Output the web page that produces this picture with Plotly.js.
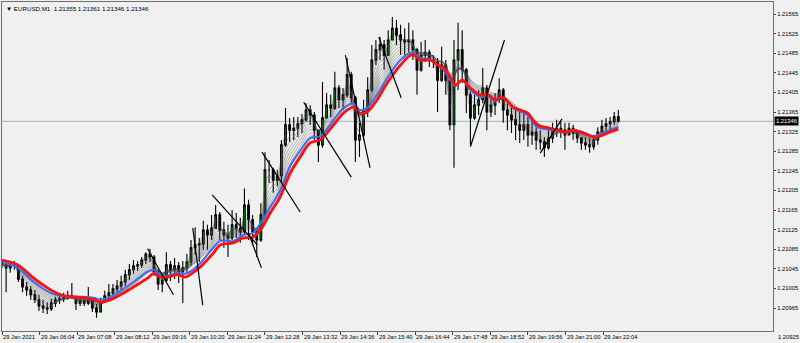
<!DOCTYPE html>
<html>
<head>
<meta charset="utf-8">
<script src="https://cdn.plot.ly/plotly-3.0.1.min.js"></script>
<style>
html,body{margin:0;padding:0;background:#f0f0f0;}
#chart{width:800px;height:343px;}
</style>
</head>
<body>
<div id="chart"></div>
<script>
// ---- DATA ----
const symbol = "EURUSD,M1";
const startTime = "2021-01-29 05:00";   // first bar
const barMinutes = 7;                    // each plotted bar = 7 minutes
const lastO = 1.21355, lastH = 1.21361, lastL = 1.21346, lastC = 1.21346;
const firstOpen = 1.21060;

const hi = [1.21063,1.21059,1.21057,1.21061,1.21053,1.21031,1.21018,1.21010,1.21002,1.20992,
1.20982,1.20977,1.20984,1.20988,1.20992,1.20996,1.21000,1.21016,1.20990,1.20988,
1.20988,1.21008,1.20982,1.20973,1.20986,1.21000,1.21014,1.21014,1.21022,1.21031,
1.21043,1.21055,1.21063,1.21061,1.21069,1.21079,1.21086,1.21073,1.21043,1.21031,
1.21079,1.21061,1.21067,1.21059,1.21061,1.21075,1.21104,1.21130,1.21108,1.21143,
1.21135,1.21155,1.21175,1.21161,1.21141,1.21135,1.21165,1.21159,1.21149,1.21209,
1.21186,1.21155,1.21128,1.21179,1.21283,1.21267,1.21251,1.21247,1.21308,1.21373,
1.21353,1.21355,1.21355,1.21361,1.21383,1.21379,1.21365,1.21328,1.21426,1.21404,
1.21400,1.21447,1.21420,1.21414,1.21475,1.21447,1.21398,1.21343,1.21390,1.21436,
1.21502,1.21512,1.21518,1.21512,1.21532,1.21559,1.21553,1.21543,1.21536,1.21547,
1.21532,1.21496,1.21508,1.21512,1.21492,1.21481,1.21475,1.21498,1.21471,1.21441,
1.21512,1.21547,1.21532,1.21455,1.21406,1.21400,1.21410,1.21455,1.21420,1.21400,
1.21404,1.21434,1.21414,1.21383,1.21381,1.21375,1.21369,1.21365,1.21355,1.21349,
1.21334,1.21328,1.21314,1.21328,1.21343,1.21349,1.21345,1.21343,1.21343,1.21339,
1.21328,1.21314,1.21314,1.21312,1.21318,1.21334,1.21349,1.21353,1.21355,1.21365,1.21369];

const lo = [1.21047,1.20997,1.21037,1.21043,1.21018,1.20997,1.20990,1.20982,1.20975,1.20959,
1.20955,1.20953,1.20959,1.20967,1.20973,1.20977,1.20982,1.20984,1.20961,1.20969,
1.20969,1.20971,1.20957,1.20945,1.20957,1.20975,1.20984,1.20990,1.20996,1.21002,
1.21010,1.21022,1.21035,1.21041,1.21047,1.21055,1.21059,1.21031,1.21002,1.20997,
1.21018,1.21020,1.21024,1.21016,1.20975,1.21035,1.21051,1.21073,1.21059,1.21084,
1.21084,1.21104,1.21128,1.21104,1.21088,1.21069,1.21104,1.21108,1.21098,1.21114,
1.21104,1.21094,1.21069,1.21100,1.21149,1.21220,1.21200,1.21214,1.21222,1.21294,
1.21304,1.21308,1.21314,1.21322,1.21345,1.21339,1.21308,1.21263,1.21292,1.21353,
1.21355,1.21369,1.21373,1.21369,1.21394,1.21381,1.21263,1.21273,1.21308,1.21355,
1.21405,1.21461,1.21471,1.21451,1.21482,1.21512,1.21502,1.21482,1.21482,1.21487,
1.21471,1.21400,1.21447,1.21467,1.21457,1.21455,1.21365,1.21426,1.21400,1.21328,
1.21251,1.21410,1.21424,1.21363,1.21298,1.21349,1.21359,1.21383,1.21328,1.21355,
1.21359,1.21383,1.21343,1.21328,1.21322,1.21308,1.21302,1.21308,1.21294,1.21298,
1.21288,1.21288,1.21273,1.21288,1.21302,1.21314,1.21312,1.21288,1.21318,1.21308,
1.21302,1.21288,1.21288,1.21282,1.21288,1.21298,1.21314,1.21324,1.21328,1.21339,1.21343];

const cl = [1.21053,1.21047,1.21051,1.21051,1.21024,1.21008,1.21002,1.20992,1.20982,1.20969,
1.20965,1.20963,1.20975,1.20982,1.20984,1.20986,1.20990,1.20988,1.20975,1.20980,
1.20975,1.20982,1.20965,1.20957,1.20977,1.20990,1.20996,1.21004,1.21010,1.21018,
1.21033,1.21043,1.21051,1.21053,1.21063,1.21075,1.21069,1.21039,1.21014,1.21022,
1.21053,1.21043,1.21051,1.21039,1.21047,1.21059,1.21088,1.21094,1.21096,1.21124,
1.21114,1.21128,1.21155,1.21124,1.21114,1.21108,1.21135,1.21128,1.21120,1.21175,
1.21145,1.21120,1.21104,1.21155,1.21247,1.21247,1.21226,1.21235,1.21298,1.21339,
1.21328,1.21332,1.21341,1.21349,1.21369,1.21359,1.21328,1.21298,1.21353,1.21379,
1.21373,1.21414,1.21390,1.21400,1.21441,1.21394,1.21308,1.21318,1.21369,1.21410,
1.21471,1.21492,1.21502,1.21481,1.21512,1.21536,1.21522,1.21512,1.21508,1.21512,
1.21492,1.21451,1.21481,1.21487,1.21471,1.21467,1.21430,1.21461,1.21430,1.21339,
1.21471,1.21492,1.21451,1.21400,1.21353,1.21379,1.21390,1.21414,1.21365,1.21379,
1.21390,1.21410,1.21369,1.21359,1.21349,1.21339,1.21328,1.21339,1.21318,1.21324,
1.21308,1.21304,1.21292,1.21312,1.21328,1.21332,1.21328,1.21318,1.21332,1.21322,
1.21312,1.21302,1.21298,1.21294,1.21308,1.21324,1.21336,1.21341,1.21345,1.21355,1.21346];

// moving-average lines (time, price)
const maTimes = ["05:00","05:27","05:54","06:23","06:40","06:57","07:19","07:36","07:48","08:05",
"08:22","08:44","09:08","09:18","09:30","09:42","09:59","10:13","10:25","10:38",
"11:00","11:12","11:34","11:51","12:07","12:20","12:37","12:54","13:11","13:28",
"13:45","14:02","14:25","14:42","14:59","15:10","15:22","15:39","15:56","16:19",
"16:39","16:53","17:10","17:22","17:32","17:44","17:52","18:04","18:18","18:35",
"18:48","19:00","19:14","19:31","19:55","20:12","20:29","20:46","21:03","21:13",
"21:30","21:47","21:59","22:11","22:30"];
const redMA = [1.21063,1.21053,1.21026,1.21002,1.20992,1.20988,1.20986,1.20982,1.20977,1.20982,
1.20992,1.21008,1.21026,1.21035,1.21028,1.21028,1.21033,1.21028,1.21037,1.21049,
1.21077,1.21094,1.21098,1.21108,1.21110,1.21124,1.21159,1.21192,1.21240,1.21273,
1.21302,1.21308,1.21339,1.21363,1.21375,1.21363,1.21365,1.21390,1.21424,1.21461,
1.21482,1.21471,1.21471,1.21461,1.21455,1.21436,1.21420,1.21430,1.21414,1.21400,
1.21400,1.21390,1.21394,1.21375,1.21363,1.21339,1.21333,1.21328,1.21324,1.21328,
1.21322,1.21314,1.21316,1.21322,1.21330];
const blueMA = [1.21059,1.21047,1.21018,1.20996,1.20990,1.20988,1.20988,1.20986,1.20982,1.20988,
1.21000,1.21018,1.21039,1.21043,1.21033,1.21031,1.21037,1.21035,1.21043,1.21057,
1.21088,1.21102,1.21102,1.21114,1.21118,1.21137,1.21171,1.21205,1.21255,1.21286,
1.21312,1.21316,1.21349,1.21373,1.21382,1.21369,1.21373,1.21400,1.21434,1.21471,
1.21487,1.21475,1.21473,1.21461,1.21451,1.21430,1.21418,1.21430,1.21410,1.21396,
1.21398,1.21388,1.21394,1.21373,1.21359,1.21334,1.21330,1.21326,1.21324,1.21328,
1.21324,1.21316,1.21320,1.21326,1.21334];
const ribbonPeriods = [2,3,4,5,6,7,8,9,10,11,12];

// hand-drawn trend lines: start time, start price, end time, end price
const tlStartT = ["09:08","10:25","10:58","12:00","12:23","13:34","14:45","15:42","18:18","20:17"];
const tlStartP = [1.21086,1.21128,1.21196,1.21118,1.21283,1.21385,1.21481,1.21518,1.21294,1.21281];
const tlEndT   = ["09:52","10:42","12:15","12:22","13:28","14:55","15:27","16:20","19:16","20:54"];
const tlEndP   = [1.20992,1.20971,1.21094,1.21047,1.21161,1.21232,1.21251,1.21394,1.21512,1.21351];

const xTickTimes = ["05:00","06:04","07:08","08:12","09:16","10:20","11:24","12:28","13:32","14:36",
"15:40","16:44","17:48","18:52","19:56","21:00","22:04"];
const xTickText = ["29 Jan 2021","29 Jan 06:04","29 Jan 07:08","29 Jan 08:12","29 Jan 09:16","29 Jan 10:20",
"29 Jan 11:24","29 Jan 12:28","29 Jan 13:32","29 Jan 14:36","29 Jan 15:40","29 Jan 16:44","29 Jan 17:48",
"29 Jan 18:52","29 Jan 19:56","29 Jan 21:00","29 Jan 22:04"];
const yTicks = [1.20965,1.21005,1.21045,1.21085,1.21125,1.21165,1.21205,1.21245,1.21285,1.21325,
1.21365,1.21405,1.21445,1.21485,1.21525,1.21565];
const yBottomLabel = 1.20925;
const yRange = [1.209181, 1.215895];
const xEnd = "2021-01-30 02:53:30";

// ---- helpers ----
const day = "2021-01-29 ";
const base = Date.parse(startTime.replace(" ","T")+":00Z");
function fmt(ms){ return new Date(ms).toISOString().slice(0,19).replace("T"," "); }
const barT = cl.map((_, i) => fmt(base + i*barMinutes*60000));
const op = cl.map((_, i) => i === 0 ? firstOpen : cl[i-1]);
function ema(src, n){ const a = 2/(n+1); const out=[]; let v=src[0]; for(const s of src){ v = v + a*(s-v); out.push(v);} return out; }

const traces = [];
const font = "Liberation Sans, DejaVu Sans, sans-serif";
const fs = 5.8;

// ribbon of moving averages of the close
ribbonPeriods.forEach((n) => {
  traces.push({type:"scatter", mode:"lines", x:barT, y:ema(cl, n), hoverinfo:"skip",
    line:{color:"rgba(70,70,70,0.55)", width:0.7, shape:"spline"}, showlegend:false});
});
// candles
traces.push({type:"candlestick", x:barT, open:op, high:hi, low:lo, close:cl,
  increasing:{line:{color:"#000000", width:1.1}, fillcolor:"#00a000"},
  decreasing:{line:{color:"#000000", width:1.1}, fillcolor:"#000000"},
  whiskerwidth:0, showlegend:false, hoverinfo:"skip"});
// blue and red MAs
const maX = maTimes.map(t => day + t);
traces.push({type:"scatter", mode:"lines", x:maX, y:blueMA, line:{color:"#3b6cf5", width:2, shape:"spline"}, showlegend:false});
traces.push({type:"scatter", mode:"lines", x:maX, y:redMA, line:{color:"#ff1010", width:2.8, shape:"spline"}, showlegend:false});
// trend lines
const tx=[], ty=[];
tlStartT.forEach((t,i)=>{ tx.push(day+t, day+tlEndT[i], null); ty.push(tlStartP[i], tlEndP[i], null); });
traces.push({type:"scatter", mode:"lines", x:tx, y:ty, line:{color:"#000000", width:1.2}, showlegend:false});

const xLabels = xTickTimes.map((t,i)=>({xref:"x", yref:"paper", x:day+t, y:0, xanchor:"left", yanchor:"top",
  yshift:-1, xshift:-1, showarrow:false, text:xTickText[i], font:{family:font, size:fs, color:"#000"}}));

const layout = {
  width:800, height:343,
  margin:{l:2, r:27, t:2, b:12, pad:0},
  paper_bgcolor:"#f0f0f0", plot_bgcolor:"#f0f0f0",
  showlegend:false, boxgap:0.4,
  font:{family:font, size:fs, color:"#000"},
  xaxis:{type:"date", range:[startTime, xEnd], rangeslider:{visible:false},
    showgrid:false, zeroline:false, showline:true, mirror:true, linecolor:"#707070", linewidth:1,
    ticks:"outside", ticklen:3, tickcolor:"#404040", tickwidth:1,
    tickvals:xTickTimes.map(t=>day+t), showticklabels:false},
  yaxis:{side:"right", range:yRange, showgrid:false, zeroline:false, showline:true, mirror:true,
    linecolor:"#707070", linewidth:1, ticks:"outside", ticklen:2, tickcolor:"#404040",
    tickvals:yTicks, tickformat:".5f", tickfont:{family:font, size:fs, color:"#000"}},
  shapes:[{type:"line", xref:"paper", x0:0, x1:1, yref:"y", y0:lastC, y1:lastC,
    line:{color:"#a9b1bf", width:1}, layer:"below"}],
  annotations:[
    {xref:"paper", yref:"paper", x:0, y:1, xanchor:"left", yanchor:"top", xshift:2, yshift:-1, showarrow:false,
     text:"▼ " + symbol + "  " + [lastO,lastH,lastL,lastC].map(v=>v.toFixed(5)).join(" "),
     font:{family:font, size:6.2, color:"#000"}},
    {xref:"paper", yref:"y", x:1, y:lastC, xanchor:"left", yanchor:"middle", xshift:1, showarrow:false,
     text:lastC.toFixed(5), bgcolor:"#000", borderpad:1, font:{family:font, size:fs, color:"#fff"}},
    {xref:"paper", yref:"paper", x:1, y:0, xanchor:"left", yanchor:"middle", xshift:3, yshift:-6, showarrow:false,
     text:yBottomLabel.toFixed(5), font:{family:font, size:fs, color:"#000"}}
  ].concat(xLabels)
};
Plotly.newPlot("chart", traces, layout, {staticPlot:true, displayModeBar:false});
</script>
</body>
</html>
